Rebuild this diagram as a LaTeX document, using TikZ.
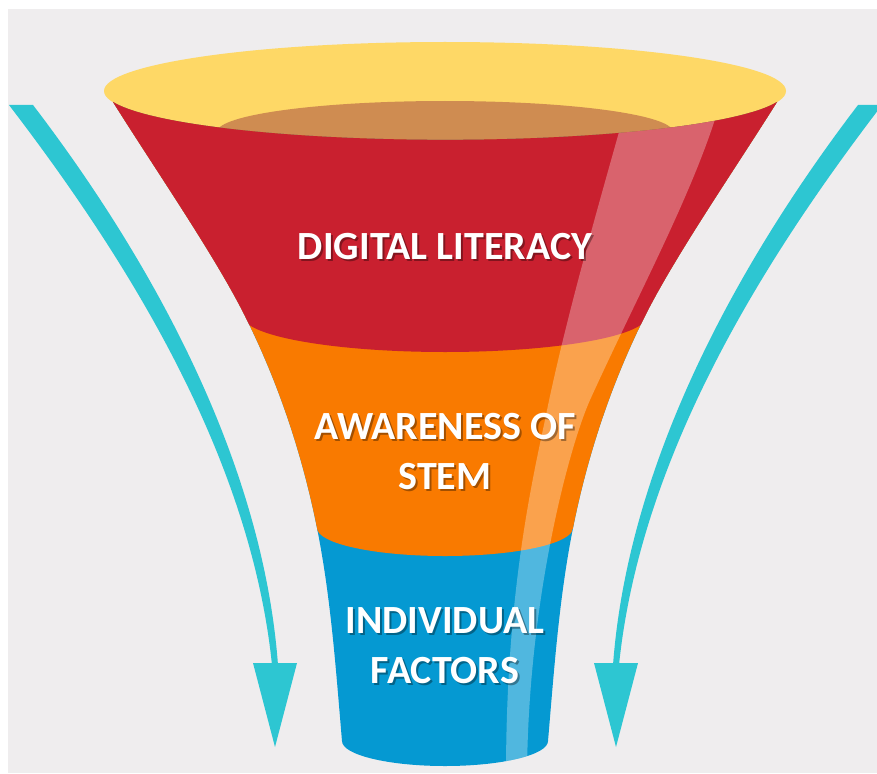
\documentclass[tikz,border=0pt]{standalone}
\usepackage{fontspec}
\setmainfont{Carlito}
\definecolor{bgc}{HTML}{EFEDEE}
\definecolor{yel}{HTML}{FED866}
\definecolor{brn}{HTML}{CF8C51}
\definecolor{redc}{HTML}{C9202F}
\definecolor{orgc}{HTML}{F97A00}
\definecolor{bluc}{HTML}{0599D2}
\definecolor{tealc}{HTML}{2DC6D2}
\newcommand\tealarrow{%
  \fill[tealc] (9,105) .. controls (120,250) and (250,450) .. (272,665)
    -- (278,665) .. controls (262,450) and (140,245) .. (33,105) -- cycle;
  \fill[tealc] (253,663) -- (297,663) -- (275,747) -- cycle;}
\newcommand\shtext[1]{\makebox[0pt][l]{\kern2pt\raisebox{-2pt}{\pgfsetfillopacity{0.35}\color{black}#1}}\pgfsetfillopacity{1}#1}
\begin{document}
\begin{tikzpicture}[x=1pt,y=-1pt,
  lbl/.style={text=white, font=\bfseries\fontsize{40}{50}\selectfont, anchor=base, inner sep=0pt}]
\useasboundingbox (0,0) rectangle (877,773);
\fill[white] (0,0) rectangle (877,773);
\fill[bgc] (8,9) rectangle (877,773);
% arrows
\tealarrow
\begin{scope}[xshift=891pt, xscale=-1]
\tealarrow
\end{scope}
% funnel top
\fill[yel] (445,91) ellipse [x radius=341, y radius=49];
\fill[brn] (445,132) ellipse [x radius=228, y radius=31];
\begin{scope}
\clip (113,102) .. controls (157,172) and (215,256) .. (245,316)
  .. controls (280,386) and (303,458) .. (317,528)
  .. controls (331,598) and (336,671) .. (342,741)
  arc[start angle=180, end angle=0, x radius=103, y radius=25]
  .. controls (554,671) and (559,598) .. (573,528)
  .. controls (587,458) and (610,386) .. (645,316)
  .. controls (675,256) and (733,172) .. (777,102)
  arc[start angle=13.2, end angle=166.8, x radius=341, y radius=49] -- cycle;
\fill[bluc] (0,0) rectangle (877,773);
\fill[orgc] (0,0) -- (0,528) -- (317,528) arc[start angle=180, end angle=0, x radius=128, y radius=28] -- (877,528) -- (877,0) -- cycle;
\fill[redc] (0,0) -- (0,316) -- (243,316) arc[start angle=180, end angle=0, x radius=202, y radius=36] -- (877,316) -- (877,0) -- cycle;
\fill[white, opacity=0.3] (628,100) .. controls (600,200) and (565,320) .. (545,420)
  .. controls (530,490) and (506,600) .. (506,775)
  -- (527,775) .. controls (528,600) and (569,447) .. (590,400)
  .. controls (640,290) and (695,190) .. (721,100) -- cycle;
\end{scope}
% labels
\node[lbl] (t1) at (445,259) {\shtext{DIGITAL LITERACY}};
\node[lbl] (t2) at (445,439) {\shtext{AWARENESS OF}};
\node[lbl] (t3) at (445,489) {\shtext{STEM}};
\node[lbl] (t4) at (445,633) {\shtext{INDIVIDUAL}};
\node[lbl] (t5) at (445,683) {\shtext{FACTORS}};
\end{tikzpicture}
\end{document}
